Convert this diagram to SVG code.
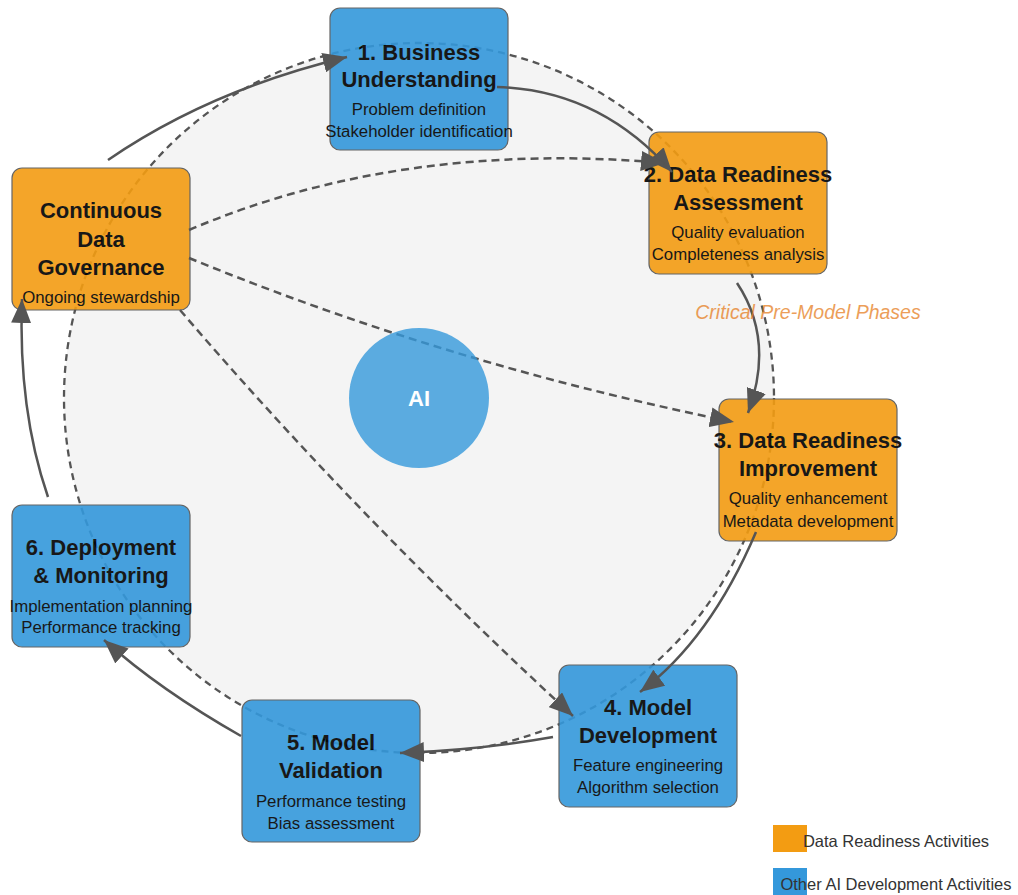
<svg xmlns="http://www.w3.org/2000/svg" width="1018" height="895" viewBox="0 0 1018 895">
  <style>
    .node { opacity: 0.9; }
    .box { stroke: #555; stroke-width: 1.2; }
    .dr { fill: #f39c12; }
    .ai { fill: #3498db; }
    .title { font-family: "Liberation Sans", Arial, sans-serif; font-size: 22px; font-weight: bold; fill: #000; text-anchor: middle; }
    .sub { font-family: "Liberation Sans", Arial, sans-serif; font-size: 16.8px; fill: #000; text-anchor: middle; }
    .flow { fill: none; stroke: #555; stroke-width: 2.5; }
    .link { fill: none; stroke: #555; stroke-width: 2.5; stroke-dasharray: 8 5; }
    .legend { font-family: "Liberation Sans", Arial, sans-serif; font-size: 16.5px; fill: #333; text-anchor: middle; }
  </style>
  <defs>
    <marker id="arrow" markerUnits="userSpaceOnUse" markerWidth="24" markerHeight="20" viewBox="0 0 24 20" refX="24" refY="10" orient="auto">
      <path d="M0,0 L24,10 L0,20 Z" fill="#555"/>
    </marker>
  </defs>

  <rect width="1018" height="895" fill="#ffffff"/>

  <!-- lifecycle ring -->
  <circle id="ring" cx="419" cy="398" r="355" fill="#f4f4f4" stroke="#555" stroke-width="2.3" stroke-dasharray="7 5"/>

  <!-- phases -->
  <g id="business-understanding" class="node">
    <rect class="box ai" x="330" y="8" width="178" height="142" rx="10"/>
    <text class="title" x="419" y="60">1. Business</text>
    <text class="title" x="419" y="87">Understanding</text>
    <text class="sub" x="419" y="115">Problem definition</text>
    <text class="sub" x="419" y="137">Stakeholder identification</text>
  </g>
  <g id="readiness-assessment" class="node">
    <rect class="box dr" x="649" y="132" width="178" height="142" rx="10"/>
    <text class="title" x="738" y="182">2. Data Readiness</text>
    <text class="title" x="738" y="210">Assessment</text>
    <text class="sub" x="738" y="238">Quality evaluation</text>
    <text class="sub" x="738" y="260">Completeness analysis</text>
  </g>
  <g id="readiness-improvement" class="node">
    <rect class="box dr" x="719" y="399" width="178" height="142" rx="10"/>
    <text class="title" x="808" y="448">3. Data Readiness</text>
    <text class="title" x="808" y="476">Improvement</text>
    <text class="sub" x="808" y="504">Quality enhancement</text>
    <text class="sub" x="808" y="527">Metadata development</text>
  </g>
  <g id="model-development" class="node">
    <rect class="box ai" x="559" y="665" width="178" height="142" rx="10"/>
    <text class="title" x="648" y="715">4. Model</text>
    <text class="title" x="648" y="743">Development</text>
    <text class="sub" x="648" y="771">Feature engineering</text>
    <text class="sub" x="648" y="793">Algorithm selection</text>
  </g>
  <g id="model-validation" class="node">
    <rect class="box ai" x="242" y="700" width="178" height="142" rx="10"/>
    <text class="title" x="331" y="750">5. Model</text>
    <text class="title" x="331" y="778">Validation</text>
    <text class="sub" x="331" y="807">Performance testing</text>
    <text class="sub" x="331" y="829">Bias assessment</text>
  </g>
  <g id="deployment-monitoring" class="node">
    <rect class="box ai" x="12" y="505" width="178" height="142" rx="10"/>
    <text class="title" x="101" y="555">6. Deployment</text>
    <text class="title" x="101" y="583">&amp; Monitoring</text>
    <text class="sub" x="101" y="612">Implementation planning</text>
    <text class="sub" x="101" y="633">Performance tracking</text>
  </g>
  <g id="data-governance" class="node">
    <rect class="box dr" x="12" y="168" width="178" height="142" rx="10"/>
    <text class="title" x="101" y="218">Continuous</text>
    <text class="title" x="101" y="247">Data</text>
    <text class="title" x="101" y="275">Governance</text>
    <text class="sub" x="101" y="303">Ongoing stewardship</text>
  </g>

  <!-- connectors -->
  <g id="connectors">
    <path class="flow" d="M497,87 Q600,90 672,172" marker-end="url(#arrow)"/>
    <path class="flow" d="M737,283 Q775,340 748,413" marker-end="url(#arrow)"/>
    <path class="flow" d="M756,532 Q710,640 640,692" marker-end="url(#arrow)"/>
    <path class="flow" d="M553,737 Q480,750 400,753" marker-end="url(#arrow)"/>
    <path class="flow" d="M241,736 Q160,690 104,640" marker-end="url(#arrow)"/>
    <path class="flow" d="M48,497 Q18,410 22,299" marker-end="url(#arrow)"/>
    <path class="flow" d="M108,160 Q210,90 347,57" marker-end="url(#arrow)"/>
    <path class="link" d="M189,230 Q400,140 665,163" marker-end="url(#arrow)"/>
    <path class="link" d="M189,258 Q450,365 734,422" marker-end="url(#arrow)"/>
    <path class="link" d="M180,310 Q360,520 573,716" marker-end="url(#arrow)"/>
  </g>

  <!-- hub -->
  <g id="ai-hub">
    <circle cx="419" cy="398" r="70" fill="#3498db" opacity="0.8"/>
    <text x="419" y="406" font-family="Liberation Sans, Arial, sans-serif" font-size="22" font-weight="bold" fill="#fff" text-anchor="middle">AI</text>
  </g>

  <text x="808" y="319" font-family="Liberation Sans, Arial, sans-serif" font-size="19.5" font-style="italic" fill="#e67e22" opacity="0.75" text-anchor="middle">Critical Pre-Model Phases</text>

  <!-- legend -->
  <g id="legend">
    <rect x="773" y="825" width="34" height="27" fill="#f39c12"/>
    <text class="legend" x="896" y="847">Data Readiness Activities</text>
    <rect x="773" y="868" width="34" height="27" fill="#3498db"/>
    <text class="legend" x="896" y="890">Other AI Development Activities</text>
  </g>
</svg>
